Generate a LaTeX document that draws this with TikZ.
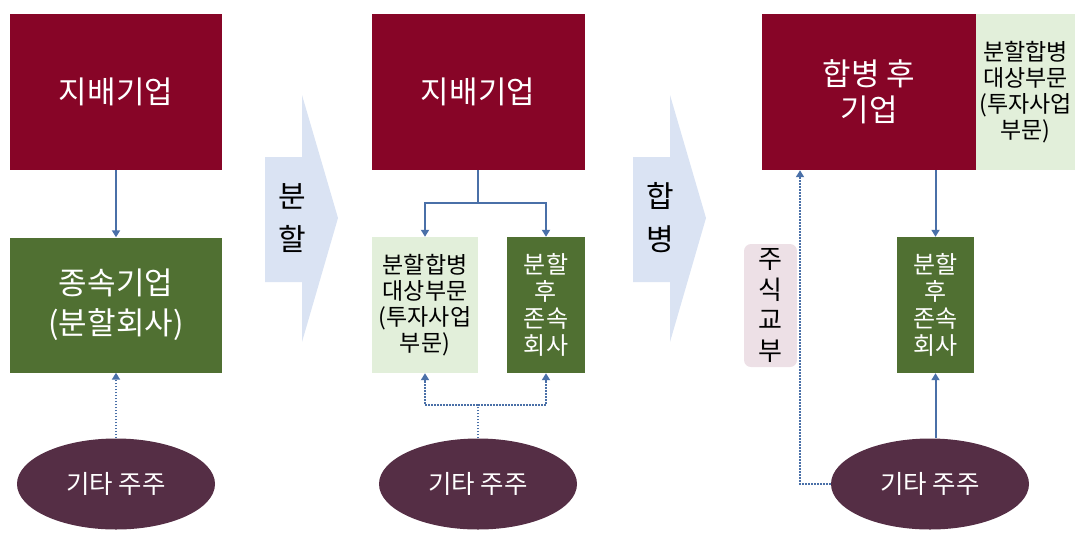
\documentclass[tikz,border=0pt]{standalone}
\usepackage{fontspec}
\setmainfont{Noto Sans CJK KR}
\usetikzlibrary{shapes.geometric,arrows.meta}
\definecolor{darkred}{HTML}{870527}
\definecolor{dgreen}{HTML}{507032}
\definecolor{lgreen}{HTML}{E2EFDA}
\definecolor{plum}{HTML}{552E45}
\definecolor{lblue}{HTML}{DAE3F3}
\definecolor{lpink}{HTML}{EDE0E6}
\definecolor{conn}{HTML}{4A70A8}
\tikzset{
  redbox/.style={draw=none,fill=darkred,text=white,rectangle,inner sep=0pt,align=center,font=\fontsize{31}{36}\selectfont},
  grnbox/.style={draw=none,fill=dgreen,text=white,rectangle,inner sep=0pt,align=center},
  lgbox/.style={draw=none,fill=lgreen,text=black,rectangle,inner sep=0pt,align=center,font=\fontsize{23}{26}\selectfont},
  holder/.style={draw=none,fill=plum,text=white,ellipse,inner sep=0pt,minimum width=198pt,minimum height=91pt,font=\fontsize{25.5}{30}\selectfont},
  conline/.style={draw=conn,line width=2pt,-{Triangle[width=8pt,length=7pt]}},
  dotline/.style={draw=conn,line width=2pt,dash pattern=on 1.6pt off 1.4pt,-{Triangle[width=8pt,length=7pt]}},
  bigarrow/.style={fill=lblue,draw=none},
  arrowtxt/.style={font=\fontsize{30}{36}\selectfont,text=black,inner sep=0pt}
}
\begin{document}
\begin{tikzpicture}[x=1pt,y=-1pt]
\useasboundingbox (0,0) rectangle (1091,544);
% big process arrows
\fill[bigarrow] (265,157) -- (302,157) -- (302,95) -- (338,218) -- (302,342) -- (302,282) -- (265,282) -- cycle;
\fill[bigarrow] (633,157) -- (670,157) -- (670,95) -- (706,218) -- (670,342) -- (670,282) -- (633,282) -- cycle;
\node[arrowtxt] (a1t) at (292,196) {분};
\node[arrowtxt] (a1b) at (292,239) {할};
\node[arrowtxt] (a2t) at (660,196) {합};
\node[arrowtxt] (a2b) at (660,239) {병};
% left stage
\node[redbox,minimum width=212pt,minimum height=156pt] (ltop) at (116,92) {지배기업};
\node[grnbox,minimum width=212pt,minimum height=135pt,font=\fontsize{31}{40}\selectfont] (lmid) at (116,305) {종속기업\\(분할회사)};
\node[holder] (lell) at (116,484) {기타 주주};
\draw[conline] (ltop.south) -- (lmid.north);
\draw[dotline] (lell.north) -- (lmid.south);
% middle stage
\node[redbox,minimum width=213pt,minimum height=156pt] (mtop) at (478,92) {지배기업};
\node[lgbox,minimum width=106pt,minimum height=136pt] (mlg) at (425,305) {분할합병\\대상부문\\(투자사업\\부문)};
\node[grnbox,minimum width=78pt,minimum height=136pt,font=\fontsize{24}{27}\selectfont] (mg) at (546,305) {분할\\후\\존속\\회사};
\node[holder] (mell) at (478,484) {기타 주주};
\coordinate (mj) at (478,203);
\coordinate (mk) at (478,405);
\draw[draw=conn,line width=2pt] (mtop.south) -- (mj);
\draw[conline] (mj) -| (mlg.north);
\draw[conline] (mj) -| (mg.north);
\draw[draw=conn,line width=2pt,dash pattern=on 1.6pt off 1.4pt] (mell.north) -- (mk);
\draw[dotline] (mk) -| (mlg.south);
\draw[dotline] (mk) -| (mg.south);
% right stage
\node[redbox,minimum width=214pt,minimum height=156pt] (rtop) at (869,92) {합병 후\\기업};
\node[lgbox,minimum width=99pt,minimum height=156pt] (rlg) at (1025.5,92) {분할합병\\대상부문\\(투자사업\\부문)};
\node[draw=none,fill=lpink,rounded corners=7pt,inner sep=0pt,minimum width=53pt,minimum height=123pt,align=center,font=\fontsize{26}{30.5}\selectfont] (share) at (770.5,305.5) {주\\식\\교\\부};
\node[grnbox,minimum width=77pt,minimum height=136pt,font=\fontsize{24}{27}\selectfont] (rg) at (935.5,305) {분할\\후\\존속\\회사};
\node[holder] (rell) at (930,484) {기타 주주};
\draw[conline] (rg.north |- rtop.south) -- (rg.north);
\draw[conline] (rg.south |- rell.north) -- (rg.south);
\draw[dotline] (rell.west) -| ([xshift=-69pt]rtop.south);
\end{tikzpicture}
\end{document}
